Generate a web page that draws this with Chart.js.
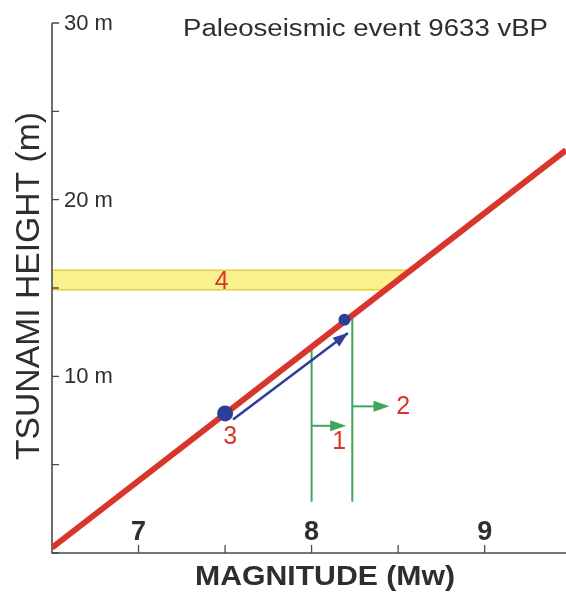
<!DOCTYPE html>
<html>
<head>
<meta charset="utf-8">
<script src="https://cdn.jsdelivr.net/npm/chart.js@4"></script>
<style>
  html, body { margin: 0; padding: 0; background: #fff; }
</style>
</head>
<body>
<canvas id="c" width="566" height="592"></canvas>
<script>
// axis ticks
const magnitudeTicks = [7, 7.5, 8, 8.5, 9];
const magnitudeLabels = ["7", "", "8", "", "9"];
const heightTicks = [0, 5, 10, 15, 20, 25, 30];
const heightLabels = ["", "", "10 m", "", "20 m", "", "30 m"];

// magnitude / tsunami height scaling line
const scalingMw = [6.5, 9.47];
const scalingHeight = [0.3, 22.8];

// observed height band (4)
const bandMw = [6.5, 8.571, 8.43, 6.5];
const bandHeight = [16.0, 16.0, 14.9, 14.9];

// event points and shift arrow (3)
const eventMw = [7.5, 8.19];
const eventHeight = [7.9, 13.2];
const shiftMw = [7.546, 8.21];
const shiftHeight = [7.55, 12.45];

// magnitude bounds (1, 2)
const boundMw = [8.0, 8.235];
const boundBase = [2.9, 2.9];
const boundTop = [11.6, 13.4];
const pushStart = [8.0, 8.235];
const pushEnd = [8.2, 8.45];
const pushHeight = [7.2, 8.3];

// numbered notes
const noteText = ["1", "2", "3", "4"];
const noteMw = [8.16, 8.53, 7.53, 7.48];
const noteHeight = [6.3, 8.26, 6.56, 15.34];

const RED = "#d8362c";
const BLUE = "#2b3f98";
const GREEN = "#3fa55c";
const AXIS = "#4a4a4a";
const INK = "#2e2e2e";

function pts(xs, ys) {
    return xs.map((x, i) => ({ x: x, y: ys[i] }));
}

function head(ctx, x0, y0, x1, y1, len, half, color) {
    const a = Math.atan2(y1 - y0, x1 - x0);
    ctx.save();
    ctx.fillStyle = color;
    ctx.beginPath();
    ctx.moveTo(x1, y1);
    ctx.lineTo(x1 - len * Math.cos(a) + half * Math.sin(a), y1 - len * Math.sin(a) - half * Math.cos(a));
    ctx.lineTo(x1 - len * Math.cos(a) - half * Math.sin(a), y1 - len * Math.sin(a) + half * Math.cos(a));
    ctx.closePath();
    ctx.fill();
    ctx.restore();
}

function fitText(ctx, text, x, y, width) {
    const w = ctx.measureText(text).width;
    ctx.save();
    ctx.translate(x, y);
    ctx.scale(width / w, 1);
    ctx.fillText(text, 0, 0);
    ctx.restore();
}

const decor = {
    id: "decor",
    beforeDatasetsDraw(chart) {
        const { ctx, chartArea: { top, bottom, left, right }, scales: { x, y } } = chart;

        // yellow band
        ctx.save();
        ctx.beginPath();
        bandMw.forEach((m, i) => {
            const px = x.getPixelForValue(m), py = y.getPixelForValue(bandHeight[i]);
            if (i === 0) ctx.moveTo(px, py); else ctx.lineTo(px, py);
        });
        ctx.closePath();
        ctx.fillStyle = "rgba(247, 238, 120, 0.85)";
        ctx.fill();
        ctx.strokeStyle = "#e4d23a";
        ctx.lineWidth = 1.5;
        ctx.beginPath();
        ctx.moveTo(x.getPixelForValue(bandMw[0]), y.getPixelForValue(bandHeight[0]));
        ctx.lineTo(x.getPixelForValue(bandMw[1]), y.getPixelForValue(bandHeight[1]));
        ctx.moveTo(x.getPixelForValue(bandMw[2]), y.getPixelForValue(bandHeight[2]));
        ctx.lineTo(x.getPixelForValue(bandMw[3]), y.getPixelForValue(bandHeight[3]));
        ctx.stroke();
        ctx.restore();

        // axes
        ctx.save();
        ctx.strokeStyle = AXIS;
        ctx.lineWidth = 1.6;
        ctx.beginPath();
        ctx.moveTo(left, top);
        ctx.lineTo(left, bottom);
        ctx.lineTo(right, bottom);
        ctx.stroke();
        ctx.lineWidth = 1.3;
        ctx.beginPath();
        heightTicks.forEach(v => {
            const py = y.getPixelForValue(v);
            ctx.moveTo(left, py);
            ctx.lineTo(left + 7, py);
        });
        magnitudeTicks.forEach(v => {
            const px = x.getPixelForValue(v);
            ctx.moveTo(px, bottom);
            ctx.lineTo(px, bottom - 8);
        });
        ctx.stroke();

        // tick labels
        ctx.fillStyle = INK;
        ctx.font = "22px 'Liberation Sans', Arial, sans-serif";
        ctx.textAlign = "left";
        ctx.textBaseline = "middle";
        heightTicks.forEach((v, i) => {
            if (heightLabels[i]) ctx.fillText(heightLabels[i], left + 12, y.getPixelForValue(v) + 1);
        });
        ctx.font = "bold 27px 'Liberation Sans', Arial, sans-serif";
        ctx.textAlign = "center";
        ctx.textBaseline = "alphabetic";
        magnitudeTicks.forEach((v, i) => {
            if (magnitudeLabels[i]) ctx.fillText(magnitudeLabels[i], x.getPixelForValue(v), bottom - 13);
        });
        ctx.restore();
    },
    afterDatasetsDraw(chart) {
        const { ctx, scales: { x, y } } = chart;

        // arrow heads
        head(ctx, x.getPixelForValue(shiftMw[0]), y.getPixelForValue(shiftHeight[0]),
            x.getPixelForValue(shiftMw[1]), y.getPixelForValue(shiftHeight[1]), 15, 5.5, BLUE);
        pushStart.forEach((m, i) => {
            head(ctx, x.getPixelForValue(m), y.getPixelForValue(pushHeight[i]),
                x.getPixelForValue(pushEnd[i]), y.getPixelForValue(pushHeight[i]), 16, 5.5, GREEN);
        });

        // numbered notes
        ctx.save();
        ctx.fillStyle = RED;
        ctx.font = "25px 'Liberation Sans', Arial, sans-serif";
        ctx.textAlign = "center";
        ctx.textBaseline = "middle";
        noteText.forEach((t, i) => {
            ctx.fillText(t, x.getPixelForValue(noteMw[i]), y.getPixelForValue(noteHeight[i]));
        });

        // titles
        ctx.fillStyle = INK;
        ctx.textAlign = "left";
        ctx.textBaseline = "alphabetic";
        ctx.font = "23px 'Liberation Sans', Arial, sans-serif";
        fitText(ctx, "Paleoseismic event 9633 vBP", 183, 36, 365);

        ctx.font = "bold 28px 'Liberation Sans', Arial, sans-serif";
        fitText(ctx, "MAGNITUDE (Mw)", 195, 585, 260);

        ctx.save();
        ctx.translate(29, 460);
        ctx.rotate(-Math.PI / 2);
        ctx.font = "33px 'Liberation Sans', Arial, sans-serif";
        ctx.textBaseline = "middle";
        fitText(ctx, "TSUNAMI HEIGHT (m)", 0, 1, 348);
        ctx.restore();
        ctx.restore();
    }
};

const segment = (data, color, width) => ({
    data: data,
    showLine: true,
    borderColor: color,
    borderWidth: width,
    pointRadius: 0,
    borderCapStyle: "butt"
});

const datasets = [
    {
        data: pts(eventMw, eventHeight),
        backgroundColor: BLUE,
        borderColor: BLUE,
        pointRadius: [8, 6],
        pointBorderWidth: 0
    },
    segment(pts(scalingMw, scalingHeight), RED, 6),
    segment(pts(shiftMw, shiftHeight), BLUE, 2.5)
];
boundMw.forEach((m, i) => {
    datasets.push(segment([{ x: m, y: boundBase[i] }, { x: m, y: boundTop[i] }], GREEN, 2));
    datasets.push(segment([{ x: pushStart[i], y: pushHeight[i] }, { x: pushEnd[i] - 0.05, y: pushHeight[i] }], GREEN, 2));
});

new Chart(document.getElementById("c"), {
    type: "scatter",
    data: { datasets: datasets },
    options: {
        responsive: false,
        animation: false,
        devicePixelRatio: 1,
        layout: { autoPadding: false, padding: { left: 52, right: 0, top: 23, bottom: 39 } },
        scales: {
            x: { type: "linear", min: 6.5, max: 9.47, display: false },
            y: { type: "linear", min: 0, max: 30, display: false }
        },
        plugins: {
            legend: { display: false },
            tooltip: { enabled: false }
        }
    },
    plugins: [decor]
});
</script>
</body>
</html>
